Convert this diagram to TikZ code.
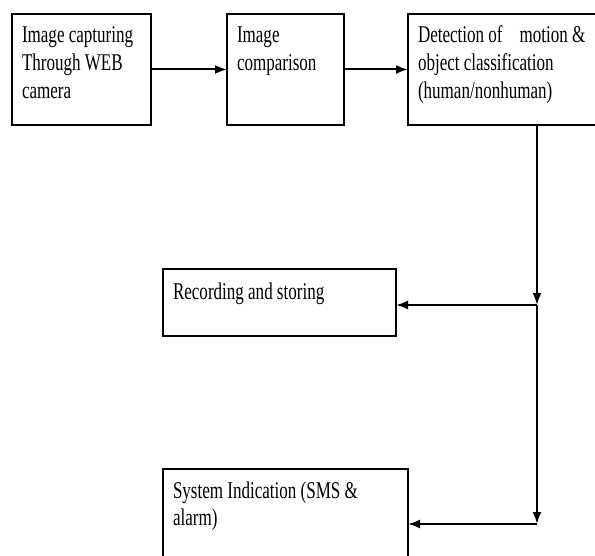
\documentclass[tikz,border=0pt]{standalone}
\usepackage{fontspec}
\setmainfont[FakeStretch=0.71]{Liberation Serif}
\usetikzlibrary{arrows.meta}
\newcommand\blockfont{\fontsize{24}{28}\selectfont\spaceskip 4.2pt\relax}
\tikzset{block/.style={draw,line width=2pt,anchor=north west,align=flush left,inner xsep=10pt,inner ysep=0pt,outer sep=0pt,font=\blockfont},
  arr/.style={line width=2pt,-{Latex[length=12pt,width=9pt]}}}

\begin{document}
\begin{tikzpicture}[x=1pt,y=-1pt]
    \useasboundingbox (0,0) rectangle (595,556);
    % top row
    \node[block,text width=119pt,text height=29pt,text depth=82pt] (cap) at (12,14) {Image capturing\\Through WEB\\camera};
    \node[block,text width=97pt,text height=29pt,text depth=82pt] (cmp) at (227,14) {Image\\comparison};
    \node[block,text width=177pt,text height=29pt,text depth=82pt] (det) at (408,14) {Detection of\hspace{17pt}motion \&\\object classification\\(human/nonhuman)};
    \draw[arr] (cap) -- (cmp);
    \draw[arr] (cmp) -- (det);
    % outputs
    \node[block,text width=213pt,text height=31pt,text depth=36pt] (rec) at (163,269) {Recording and storing};
    \node[block,text width=225pt,text height=29pt,text depth=102pt] (sys) at (163,469) {System Indication (SMS \&\\[-1pt]alarm)};
    \coordinate (j1) at (537,305);
    \coordinate (j2) at (537,524);
    \draw[arr] (det.south -| j1) -- (j1);
    \draw[arr] (j1) -- (j2);
    \draw[arr] (j1) -- (j1 -| rec.east);
    \draw[arr] (j2) -- (j2 -| sys.east);
\end{tikzpicture}
\end{document}
